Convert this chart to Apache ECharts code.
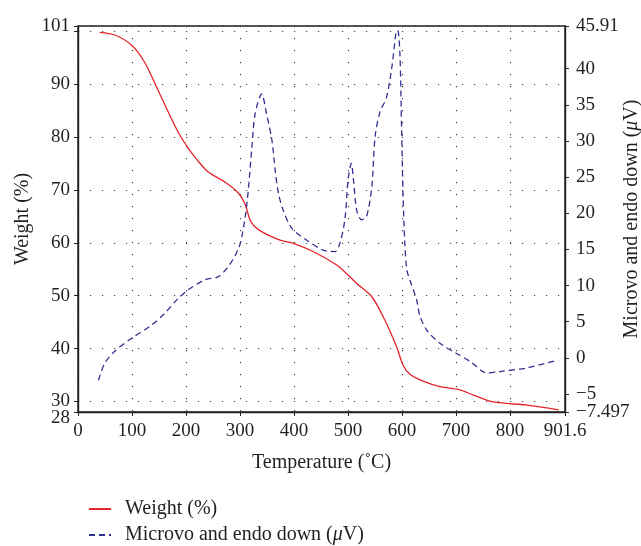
<!DOCTYPE html>
<html>
<head>
<meta charset="utf-8">
<script src="https://cdn.jsdelivr.net/npm/echarts@6/dist/echarts.min.js"></script>
<style>
  html, body { margin: 0; padding: 0; background: #fff; }
  #chart { width: 641px; height: 546px; }
</style>
</head>
<body>
<div id="chart"></div>
<script>
// TGA curve: temperature (°C) -> weight (%)
const weightTemp = [40, 68, 99, 123, 148, 164, 185, 204, 222, 241, 272, 296, 309, 320, 337, 374, 399, 436, 479, 497, 516, 544, 568, 590, 602, 615, 640, 670, 707, 732, 769, 831, 890]
const weightVal = [99.8, 99.3, 97.4, 94.2, 88.9, 85.4, 81.0, 77.9, 75.5, 73.4, 71.5, 69.5, 67.4, 64.0, 62.3, 60.5, 59.9, 58.3, 55.8, 54.2, 52.3, 49.8, 45.4, 40.3, 36.8, 35.1, 33.8, 32.8, 32.2, 31.2, 29.9, 29.3, 28.4]

// DTA curve: temperature (°C) -> signal (µV)
const signalTemp = [38, 49, 68, 99, 136, 161, 185, 204, 235, 259, 278, 296, 304, 313, 322, 328, 340, 349, 359, 365, 371, 380, 396, 423, 454, 476, 485, 494, 500, 506, 510, 516, 525, 534, 544, 550, 559, 571, 581, 589, 592, 596, 599, 602, 605, 609, 618, 627, 633, 646, 670, 701, 726, 757, 781, 831, 889]
const signalVal = [-3.1, -0.8, 0.9, 2.7, 4.5, 6.2, 8.2, 9.4, 10.8, 11.2, 12.6, 14.9, 17.0, 21.5, 29.2, 33.8, 36.5, 33.8, 30.1, 26.0, 22.8, 20.4, 17.9, 16.3, 14.9, 14.7, 15.9, 19.1, 24.6, 26.9, 24.6, 20.4, 19.1, 19.5, 23.7, 30.6, 34.0, 36.0, 40.2, 45.1, 45.3, 42.0, 32.0, 22.0, 16.0, 12.1, 10.0, 8.0, 5.8, 3.8, 2.0, 0.6, -0.5, -2.1, -1.9, -1.4, -0.3]

// axis ticks / labels
const xTicks = [0, 100, 200, 300, 400, 500, 600, 700, 800, 901.6]
const leftTicks = [28, 30, 40, 50, 60, 70, 80, 90, 100, 101]
const leftLabels = [30, 40, 50, 60, 70, 80, 90, 101]
const rightTicks = [-7.497, -5, 0, 5, 10, 15, 20, 25, 30, 35, 40, 45.91]
const rightLabels = [-5, 0, 5, 10, 15, 20, 25, 30, 35, 40, 45.91]
const leftMin = 28
const rightMin = -7.497

const seriesNames = ['Weight (%)', 'Microvo and endo down (\u03bcV)']

const FONT = 'Liberation Serif'
const TXT = '#231f20'
const minus = (v) => String(v).replace('-', '\u2212')
// mu is set in italic, as in the original
const italicMu = (s) => s.replace('\u03bc', '{it|\u03bc}')
const itRich = (size) => ({ it: { fontFamily: FONT, fontSize: size, fontStyle: 'italic', color: TXT } })

const zip = (xs, ys) => xs.map((x, i) => [x, ys[i]])

const chart = echarts.init(document.getElementById('chart'))

const gridDots = { color: '#444', width: 1.2, type: [1.2, 10.8] }
const labelBase = { fontFamily: FONT, fontSize: 19, color: TXT, hideOverlap: false }
const axisName = { fontFamily: FONT, fontSize: 20, color: TXT }
const blackLine = { color: '#231f20', width: 1.4 }

// label-only axis, used for the min labels that sit on top of the next tick label
const minLabelAxis = (position, lo, hi, value, margin, extra) => ({
  type: 'value',
  position: position,
  min: lo,
  max: hi,
  axisLine: { show: false },
  axisTick: { show: false },
  splitLine: { show: false },
  axisLabel: Object.assign({ customValues: [value], margin: margin }, labelBase, extra)
})

const option = {
  animation: false,
  textStyle: { fontFamily: FONT, color: TXT },
  grid: {
    left: 78, right: 76, top: 26, bottom: 134,
    outerBoundsMode: 'none',
    containLabel: false,
    show: true, borderColor: '#231f20', borderWidth: 1.4, backgroundColor: 'transparent'
  },
  legend: {
    orient: 'vertical',
    left: 88,
    top: 499,
    height: 47,
    padding: 0,
    itemWidth: 22,
    itemHeight: 14,
    itemGap: 6,
    itemStyle: { opacity: 0 },
    formatter: italicMu,
    textStyle: { fontFamily: FONT, fontSize: 20, color: TXT, padding: [0, 0, 0, 9], rich: itRich(20) },
    data: seriesNames
  },
  xAxis: {
    type: 'value',
    min: 0,
    max: 901.6,
    name: 'Temperature (\u02daC)',
    nameLocation: 'middle',
    nameGap: 41,
    nameMoveOverlap: false,
    nameTextStyle: axisName,
    axisLine: { onZero: false, lineStyle: blackLine },
    axisTick: { length: 4, customValues: xTicks, lineStyle: { color: '#231f20' } },
    axisLabel: Object.assign({ customValues: xTicks, margin: 10 }, labelBase),
    splitLine: { show: true, lineStyle: gridDots }
  },
  yAxis: [
    {
      type: 'value',
      min: leftMin,
      max: 101,
      name: 'Weight (%)',
      nameLocation: 'middle',
      nameRotate: 90,
      nameGap: 45,
      nameMoveOverlap: false,
      nameTextStyle: axisName,
      axisLine: { show: true, onZero: false, lineStyle: blackLine },
      axisTick: { show: true, length: 4, customValues: leftTicks, lineStyle: { color: '#231f20' } },
      axisLabel: Object.assign({ customValues: leftLabels, margin: 8 }, labelBase),
      splitLine: { show: true, lineStyle: gridDots }
    },
    {
      type: 'value',
      position: 'right',
      min: rightMin,
      max: 45.91,
      name: italicMu(seriesNames[1]),
      nameLocation: 'middle',
      nameRotate: 90,
      nameGap: 57,
      nameMoveOverlap: false,
      nameTextStyle: Object.assign({ rich: itRich(20) }, axisName),
      axisLine: { show: true, onZero: false, lineStyle: blackLine },
      axisTick: { show: true, length: 4, customValues: rightTicks, lineStyle: { color: '#231f20' } },
      axisLabel: Object.assign({ customValues: rightLabels, margin: 11, formatter: minus }, labelBase),
      splitLine: { show: false }
    },
    minLabelAxis('left', leftMin, 101, leftMin, 8, { verticalAlign: 'top', lineHeight: 13 }),
    minLabelAxis('right', rightMin, 45.91, rightMin, 11, { formatter: minus })
  ],
  series: [
    {
      name: seriesNames[0],
      type: 'line',
      yAxisIndex: 0,
      data: zip(weightTemp, weightVal),
      smooth: 0.3,
      symbol: 'none',
      lineStyle: { color: '#e4252b', width: 1.3 },
      itemStyle: { color: '#e4252b' }
    },
    {
      name: seriesNames[1],
      type: 'line',
      yAxisIndex: 1,
      data: zip(signalTemp, signalVal),
      smooth: 0.3,
      symbol: 'none',
      lineStyle: { color: '#2e3192', width: 1.3, type: [6, 4] },
      itemStyle: { color: '#2e3192' }
    }
  ]
}

chart.setOption(option)
</script>
</body>
</html>
